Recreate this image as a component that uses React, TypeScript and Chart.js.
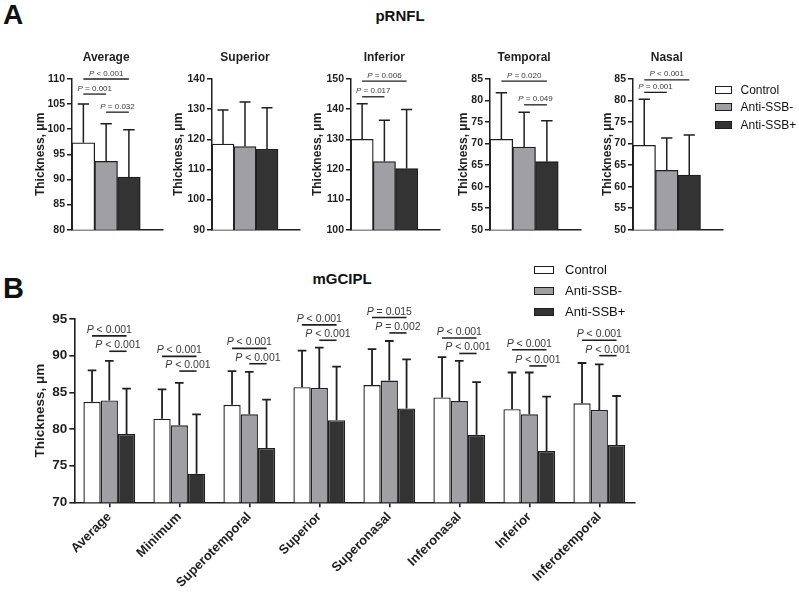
import { useEffect, useRef } from 'react';
import { Chart, registerables } from 'chart.js';

Chart.register(...registerables);

const FONT = "'Liberation Sans', Arial, Helvetica, sans-serif";
const INK = '#1f1f1f';
const P_INK = '#3a3a3a';

// ---------------- shared ----------------
const groupNames = ['Control', 'Anti-SSB-', 'Anti-SSB+'];
const groupFills = ['#ffffff', '#a0a0a4', '#333333'];
const yTitle = 'Thickness, \u03bcm';

// ---------------- Panel A: pRNFL ----------------
const rnflSectors = ['Average', 'Superior', 'Inferior', 'Temporal', 'Nasal'];
const rnflControlMean = [97.3, 118.4, 130.0, 71.0, 69.6];
const rnflControlSD = [7.7, 11.3, 11.8, 10.8, 10.7];
const rnflNegMean = [93.6, 117.6, 122.6, 69.2, 63.8];
const rnflNegSD = [7.5, 14.8, 13.7, 8.1, 7.5];
const rnflPosMean = [90.5, 116.7, 120.3, 65.8, 62.7];
const rnflPosSD = [9.4, 13.8, 19.6, 9.5, 9.3];
const rnflYMin = [80, 90, 100, 50, 50];
const rnflYMax = [110, 140, 150, 85, 85];
const rnflYStep = [5, 10, 10, 5, 5];

// significance brackets (sector index, from group, to group, level, p text)
const rnflSigSector = [0, 0, 0, 2, 2, 3, 3, 4, 4];
const rnflSigFrom = [0, 0, 1, 0, 0, 0, 1, 0, 0];
const rnflSigTo = [2, 1, 2, 2, 1, 2, 2, 2, 1];
const rnflSigLevel = [110.0, 107.0, 103.4, 149.3, 144.1, 84.5, 79.0, 84.8, 81.9];
const rnflSigText = ['< 0.001', '= 0.001', '= 0.032', '= 0.006', '= 0.017', '= 0.020', '= 0.049', '< 0.001', '= 0.001'];

// ---------------- Panel B: mGCIPL ----------------
const gcSectors = ['Average', 'Minimum', 'Superotemporal', 'Superior', 'Superonasal', 'Inferonasal', 'Inferior', 'Inferotemporal'];
const gcControlMean = [83.7, 81.4, 83.3, 85.7, 86.0, 84.3, 82.7, 83.5];
const gcControlSD = [4.3, 4.0, 4.6, 5.0, 4.9, 5.5, 5.0, 5.5];
const gcNegMean = [83.9, 80.5, 82.0, 85.6, 86.6, 83.8, 82.0, 82.6];
const gcNegSD = [5.4, 5.8, 5.8, 5.5, 5.4, 5.5, 5.7, 6.2];
const gcPosMean = [79.3, 73.9, 77.4, 81.2, 82.8, 79.2, 77.0, 77.8];
const gcPosSD = [6.2, 8.1, 6.6, 7.3, 6.7, 7.2, 7.4, 6.7];
const gcYMin = 70;
const gcYMax = 95;
const gcYStep = 5;
// upper bracket: Control vs Anti-SSB+, lower bracket: Anti-SSB- vs Anti-SSB+
const gcSigHigh = [92.7, 89.9, 91.0, 94.2, 95.2, 92.4, 90.8, 92.1];
const gcSigHighText = ['< 0.001', '< 0.001', '< 0.001', '< 0.001', '= 0.015', '< 0.001', '< 0.001', '< 0.001'];
const gcSigLow = [90.6, 87.9, 88.9, 92.1, 93.1, 90.3, 88.6, 90.0];
const gcSigLowText = ['< 0.001', '< 0.001', '< 0.001', '< 0.001', '= 0.002', '< 0.001', '< 0.001', '< 0.001'];

// ---------------- helpers ----------------
type Sig = { index: number; from: number; to: number; level: number; text: string };
type Spec = {
  canvasLeft: number; canvasTop: number; canvasW: number; canvasH: number;
  plotLeft: number; plotTop: number; plotRight: number; plotBottom: number;
  labels: string[];
  means: number[][]; sds: number[][];
  yMin: number; yMax: number; yStep: number;
  sigs: Sig[];
  padSlot: boolean;
  catPct: number;
  showX: boolean;
  tickFont: number; yTitleFont: number; xFont: number;
  pFont: number; pGap: number;
  borderW: number; errW: number; axisW: number; sigW: number;
  subtitleBaseline?: number; subtitleFont?: number;
};

function drawP(ctx: CanvasRenderingContext2D, cx: number, baseY: number, rest: string, size: number) {
  ctx.font = `italic ${size}px ${FONT}`;
  const wP = ctx.measureText('P').width;
  ctx.font = `${size}px ${FONT}`;
  const restText = ' ' + rest;
  const wR = ctx.measureText(restText).width;
  const x0 = cx - (wP + wR) / 2;
  ctx.fillStyle = P_INK;
  ctx.textAlign = 'left';
  ctx.textBaseline = 'alphabetic';
  ctx.font = `italic ${size}px ${FONT}`;
  ctx.fillText('P', x0, baseY);
  ctx.font = `${size}px ${FONT}`;
  ctx.fillText(restText, x0 + wP, baseY);
}

function makeAnnotations(spec: Spec) {
  return {
    id: 'barAnnotations',
    afterDatasetsDraw(chart: any) {
      const ctx: CanvasRenderingContext2D = chart.ctx;
      const yScale = chart.scales.y;
      ctx.save();
      ctx.strokeStyle = INK;
      ctx.lineCap = 'butt';
      for (let g = 0; g < 3; g++) {
        const meta = chart.getDatasetMeta(g);
        meta.data.forEach((el: any, i: number) => {
          const p = el.getProps(['x', 'y', 'width'], true);
          const top = yScale.getPixelForValue(spec.means[g][i] + spec.sds[g][i]);
          const half = p.width / 4;
          ctx.lineWidth = spec.errW;
          ctx.beginPath();
          ctx.moveTo(p.x, p.y);
          ctx.lineTo(p.x, top);
          ctx.moveTo(p.x - half, top);
          ctx.lineTo(p.x + half, top);
          ctx.stroke();
        });
      }
      spec.sigs.forEach((s) => {
        const a = chart.getDatasetMeta(s.from).data[s.index].getProps(['x'], true);
        const b = chart.getDatasetMeta(s.to).data[s.index].getProps(['x'], true);
        const y = yScale.getPixelForValue(s.level);
        ctx.strokeStyle = INK;
        ctx.lineWidth = spec.sigW;
        ctx.beginPath();
        ctx.moveTo(a.x, y);
        ctx.lineTo(b.x, y);
        ctx.stroke();
        drawP(ctx, (a.x + b.x) / 2, y - spec.pGap, s.text, spec.pFont);
      });
      if (spec.subtitleBaseline != null) {
        const a = chart.getDatasetMeta(0).data[0].getProps(['x'], true);
        const b = chart.getDatasetMeta(2).data[0].getProps(['x'], true);
        ctx.font = `bold ${spec.subtitleFont}px ${FONT}`;
        ctx.fillStyle = INK;
        ctx.textAlign = 'center';
        ctx.textBaseline = 'alphabetic';
        ctx.fillText(chart.data.labels[0], (a.x + b.x) / 2, spec.subtitleBaseline - spec.canvasTop);
      }
      ctx.restore();
    },
  };
}

function buildConfig(spec: Spec): any {
  const datasets: any[] = groupNames.map((name, g) => ({
    label: name,
    data: spec.means[g],
    backgroundColor: groupFills[g],
    borderColor: INK,
    borderWidth: spec.borderW,
    borderSkipped: false,
    categoryPercentage: spec.catPct,
    barPercentage: 1,
  }));
  if (spec.padSlot) {
    datasets.push({
      label: '',
      data: spec.labels.map(() => null),
      backgroundColor: 'rgba(0,0,0,0)',
      borderWidth: 0,
      categoryPercentage: spec.catPct,
      barPercentage: 1,
    });
  }
  const xAxisH = spec.canvasTop + spec.canvasH - spec.plotBottom - (spec.showX ? 0 : 8);
  return {
    type: 'bar',
    data: { labels: spec.labels, datasets },
    options: {
      responsive: false,
      animation: false,
      events: [],
      layout: {
        padding: {
          top: spec.plotTop - spec.canvasTop,
          left: 0,
          right: spec.canvasLeft + spec.canvasW - spec.plotRight,
          bottom: spec.showX ? 0 : 8,
        },
      },
      plugins: {
        legend: { display: false },
        tooltip: { enabled: false },
        title: { display: false },
      },
      scales: {
        x: {
          type: 'category',
          offset: true,
          grid: {
            display: spec.showX,
            offset: false,
            drawOnChartArea: false,
            tickLength: 5,
            lineWidth: spec.axisW,
            color: INK,
          },
          border: { display: true, color: INK, width: spec.axisW },
          ticks: {
            display: spec.showX,
            autoSkip: false,
            maxRotation: 45,
            minRotation: 45,
            padding: 2,
            color: INK,
            font: { family: FONT, size: spec.xFont, weight: 'bold' },
          },
          afterFit: (s: any) => {
            s.height = spec.showX ? xAxisH : 0;
          },
        },
        y: {
          min: spec.yMin,
          max: spec.yMax,
          grid: {
            drawOnChartArea: false,
            tickLength: 5,
            lineWidth: spec.axisW,
            color: INK,
          },
          border: { display: true, color: INK, width: spec.axisW },
          ticks: {
            stepSize: spec.yStep,
            padding: 2,
            color: INK,
            font: { family: FONT, size: spec.tickFont, weight: 'bold' },
          },
          title: {
            display: true,
            text: yTitle,
            color: INK,
            font: { family: FONT, size: spec.yTitleFont, weight: 'bold' },
            padding: { top: 4, bottom: 0 },
          },
          afterFit: (s: any) => {
            s.width = spec.plotLeft - spec.canvasLeft;
          },
        },
      },
    },
    plugins: [makeAnnotations(spec)],
  };
}

function BarPanel({ spec }: { spec: Spec }) {
  const ref = useRef<HTMLCanvasElement | null>(null);
  useEffect(() => {
    if (!ref.current) return;
    const chart = new Chart(ref.current, buildConfig(spec));
    return () => chart.destroy();
  }, [spec]);
  return (
    <canvas
      ref={ref}
      width={spec.canvasW}
      height={spec.canvasH}
      style={{
        position: 'absolute',
        left: spec.canvasLeft,
        top: spec.canvasTop,
        width: spec.canvasW,
        height: spec.canvasH,
      }}
    />
  );
}

// ---------------- layout ----------------
const rnflTitleCenter = [40, 178, 316.7, 463.3, 607.5];
const rnflPlotLeft = [72, 212, 351, 490, 633];
const rnflPlotRight = [163, 300, 440, 581, 723];

const rnflSpecs: Spec[] = rnflSectors.map((name, k) => {
  const canvasLeft = Math.round(rnflTitleCenter[k] - 11.2);
  const canvasTop = 40;
  const plotTop = 79;
  const plotBottom = 230;
  const sigs: Sig[] = [];
  rnflSigSector.forEach((sec, j) => {
    if (sec === k) sigs.push({ index: 0, from: rnflSigFrom[j], to: rnflSigTo[j], level: rnflSigLevel[j], text: rnflSigText[j] });
  });
  return {
    canvasLeft,
    canvasTop,
    canvasW: rnflPlotRight[k] + 4 - canvasLeft,
    canvasH: plotBottom + 8 - canvasTop,
    plotLeft: rnflPlotLeft[k],
    plotTop,
    plotRight: rnflPlotRight[k],
    plotBottom,
    labels: [name],
    means: [[rnflControlMean[k]], [rnflNegMean[k]], [rnflPosMean[k]]],
    sds: [[rnflControlSD[k]], [rnflNegSD[k]], [rnflPosSD[k]]],
    yMin: rnflYMin[k],
    yMax: rnflYMax[k],
    yStep: rnflYStep[k],
    sigs,
    padSlot: true,
    catPct: 1,
    showX: false,
    tickFont: 10.5,
    yTitleFont: 12,
    xFont: 12,
    pFont: 8,
    pGap: 3.5,
    borderW: 1.3,
    errW: 1.5,
    axisW: 1.5,
    sigW: 1.3,
    subtitleBaseline: 61,
    subtitleFont: 12,
  };
});

const gcSigs: Sig[] = [];
gcSectors.forEach((_, i) => {
  gcSigs.push({ index: i, from: 0, to: 2, level: gcSigHigh[i], text: gcSigHighText[i] });
  gcSigs.push({ index: i, from: 1, to: 2, level: gcSigLow[i], text: gcSigLowText[i] });
});

const gcSpec: Spec = {
  canvasLeft: 28,
  canvasTop: 290,
  canvasW: 620,
  canvasH: 307,
  plotLeft: 74.3,
  plotTop: 319,
  plotRight: 634.3,
  plotBottom: 502.3,
  labels: gcSectors,
  means: [gcControlMean, gcNegMean, gcPosMean],
  sds: [gcControlSD, gcNegSD, gcPosSD],
  yMin: gcYMin,
  yMax: gcYMax,
  yStep: gcYStep,
  sigs: gcSigs,
  padSlot: false,
  catPct: 0.74,
  showX: true,
  tickFont: 13.5,
  yTitleFont: 13.5,
  xFont: 13,
  pFont: 10.5,
  pGap: 3,
  borderW: 1.4,
  errW: 1.8,
  axisW: 1.6,
  sigW: 1.6,
};

// text placed by its baseline (line-height 1)
function Txt(props: { text: string; x: number; baseline: number; size: number; bold?: boolean; center?: boolean }) {
  const { text, x, baseline, size, bold, center } = props;
  return (
    <div
      style={{
        position: 'absolute',
        left: x,
        top: baseline - 0.8465 * size,
        fontSize: size,
        lineHeight: 1,
        fontWeight: bold ? 'bold' : 'normal',
        fontFamily: FONT,
        color: '#111',
        whiteSpace: 'nowrap',
        transform: center ? 'translateX(-50%)' : undefined,
      }}
    >
      {text}
    </div>
  );
}

function Legend(props: { x: number; textX: number; centers: number[]; boxW: number; boxH: number; size: number }) {
  const { x, textX, centers, boxW, boxH, size } = props;
  return (
    <>
      {groupNames.map((name, g) => (
        <div key={name}>
          <div
            style={{
              position: 'absolute',
              left: x,
              top: centers[g] - boxH / 2,
              width: boxW,
              height: boxH,
              boxSizing: 'border-box',
              border: `1.5px solid ${INK}`,
              background: groupFills[g],
            }}
          />
          <Txt text={name} x={textX} baseline={centers[g] + 0.36 * size} size={size} />
        </div>
      ))}
    </>
  );
}

export default function App() {
  return (
    <div
      style={{
        position: 'absolute',
        left: 0,
        top: 0,
        width: 799,
        height: 597,
        background: '#ffffff',
        overflow: 'hidden',
        fontFamily: FONT,
      }}
    >
      <Txt text="A" x={3} baseline={25} size={28} bold />
      <Txt text="pRNFL" x={400} baseline={21} size={15} bold center />
      {rnflSpecs.map((s, k) => (
        <BarPanel key={k} spec={s} />
      ))}
      <Legend x={715} textX={740.5} centers={[89.5, 107, 124.5]} boxW={17} boxH={8} size={12} />

      <Txt text="B" x={3} baseline={299} size={29} bold />
      <Txt text="mGCIPL" x={342} baseline={284} size={15} bold center />
      <BarPanel spec={gcSpec} />
      <Legend x={534} textX={565} centers={[269.5, 290.7, 311.7]} boxW={20} boxH={8} size={13} />
    </div>
  );
}
